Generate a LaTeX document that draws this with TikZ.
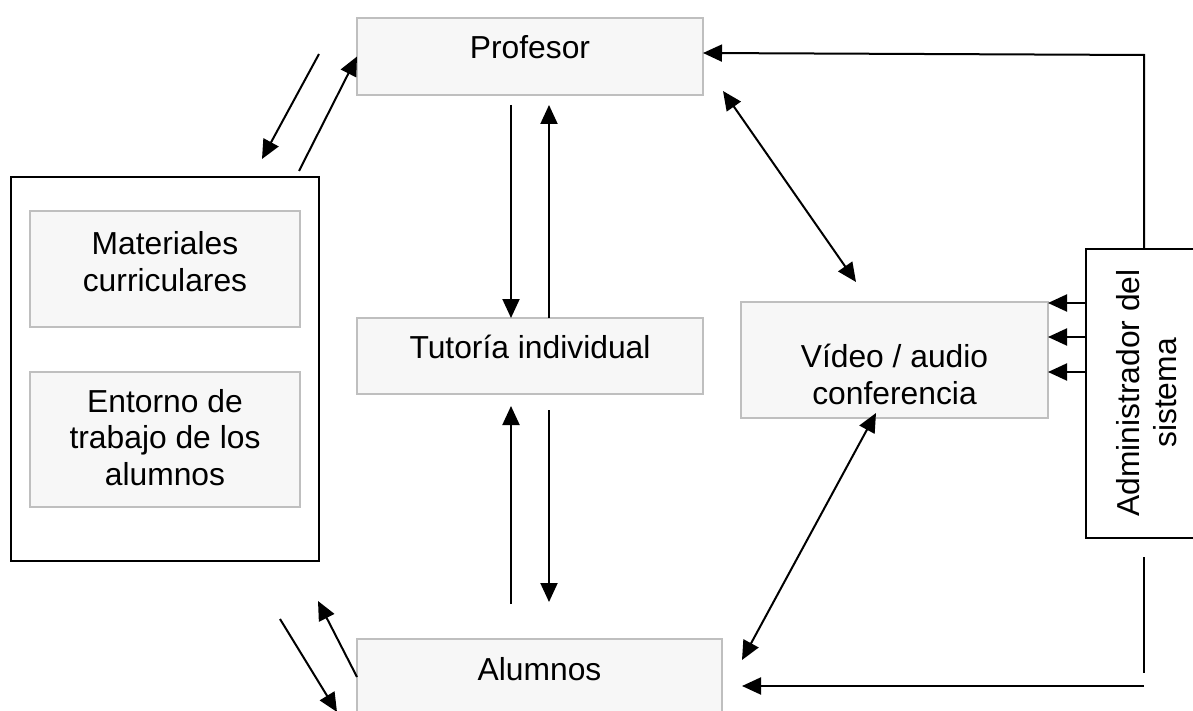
\documentclass[tikz,border=0pt]{standalone}
\usepackage{fontspec}
\setmainfont{Liberation Sans}
\usetikzlibrary{arrows.meta}
\definecolor{boxfill}{HTML}{F7F7F7}
\definecolor{boxline}{HTML}{BFBFBF}
\begin{document}
\begin{tikzpicture}[x=1pt,y=-1pt,
  every node/.style={inner sep=0pt,outer sep=0pt},
  graybox/.style={draw=boxline,fill=boxfill,line width=1.5pt,rectangle},
  blackbox/.style={draw=black,fill=white,line width=1.6pt,rectangle},
  lbl/.style={font=\fontsize{31.8}{36.5}\selectfont,align=center,anchor=base},
  arr/.style={line width=2pt,-{Triangle[length=19pt,width=17pt]}},
  darr/.style={line width=2pt,{Triangle[length=19pt,width=17pt]}-{Triangle[length=19pt,width=17pt]}},
  plain/.style={line width=2pt}]
\useasboundingbox (0,0) rectangle (1193,711);
\clip (0,0) rectangle (1193,711);

% boxes
\node[graybox,minimum width=346pt,minimum height=77pt] (prof) at (530,56.5) {};
\node[graybox,minimum width=346pt,minimum height=76pt] (tut) at (530,356) {};
\node[graybox,minimum width=365pt,minimum height=91pt] (alu) at (539.5,684.5) {};
\node[graybox,minimum width=307pt,minimum height=116pt] (video) at (894.5,360) {};
\node[blackbox,minimum width=308pt,minimum height=384pt] (recursos) at (165,369) {};
\node[graybox,minimum width=270pt,minimum height=116pt] (mat) at (165,269) {};
\node[graybox,minimum width=270pt,minimum height=135pt] (ent) at (165,439.5) {};
\node[blackbox,minimum width=140pt,minimum height=289pt] (admin) at (1156,393.5) {};

% labels (anchored on the baseline of their last line)
\node[lbl] (tprof) at (530,59) {Profesor};
\node[lbl] (ttut) at (530,358) {Tutoría individual};
\node[lbl] (talu) at (539.5,680) {Alumnos};
\node[lbl] (tvideo) at (894.5,404) {Vídeo / audio\\conferencia};
\node[lbl] (tmat) at (165,291) {Materiales\\curriculares};
\node[lbl] (tent) at (165,485) {Entorno de\\trabajo de los\\alumnos};
\node[lbl,rotate=90] (tadmin) at (1176,393) {Administrador del\\sistema};

% free ends of connectors
\coordinate (ul1) at (319,54);
\coordinate (ul2) at (262,159);
\coordinate (ul3) at (299,171);
\coordinate (ll1) at (280,619);
\coordinate (ll2) at (337,712);
\coordinate (ll3) at (318,601);
\coordinate (pd) at (511,105);
\coordinate (tu) at (549,105);
\coordinate (au) at (511,604);
\coordinate (ad) at (549,602);
\coordinate (tdA) at (549,410);
\coordinate (tuA) at (511,406);
\coordinate (pv1) at (723,91);
\coordinate (pv2) at (856,282);
\coordinate (va1) at (876,413);
\coordinate (va2) at (742,660);
\coordinate (corner) at (1144,55);
\coordinate (lr1) at (1144,557);
\coordinate (lr2) at (1144,673);
\coordinate (lr3) at (1144,686);
\coordinate (lr4) at (742,686);

% connectors on the left
\draw[arr] (ul1) -- (ul2);
\draw[arr] (ul3) -- (prof.west);
\draw[arr] (ll1) -- (ll2);
\draw[arr] (alu.west |- 0,677) -- (ll3);

% Profesor / Tutoría / Alumnos
\draw[arr] (pd) -- (pd |- tut.north);
\draw[arr] (tut.north -| tu) -- (tu);
\draw[arr] (au) -- (tuA);
\draw[arr] (tdA) -- (ad);

% video conference links
\draw[darr] (pv1) -- (pv2);
\draw[darr] (va1) -- (va2);

% system administrator
\draw[arr] (admin.north -| corner) -- (corner) -- (prof.east |- 0,53);
\draw[arr] (admin.west |- 0,303) -- (video.east |- 0,303);
\draw[arr] (admin.west |- 0,337) -- (video.east |- 0,337);
\draw[arr] (admin.west |- 0,372) -- (video.east |- 0,372);
\draw[plain] (lr1) -- (lr2);
\draw[arr] (lr3) -- (lr4);
\end{tikzpicture}
\end{document}
